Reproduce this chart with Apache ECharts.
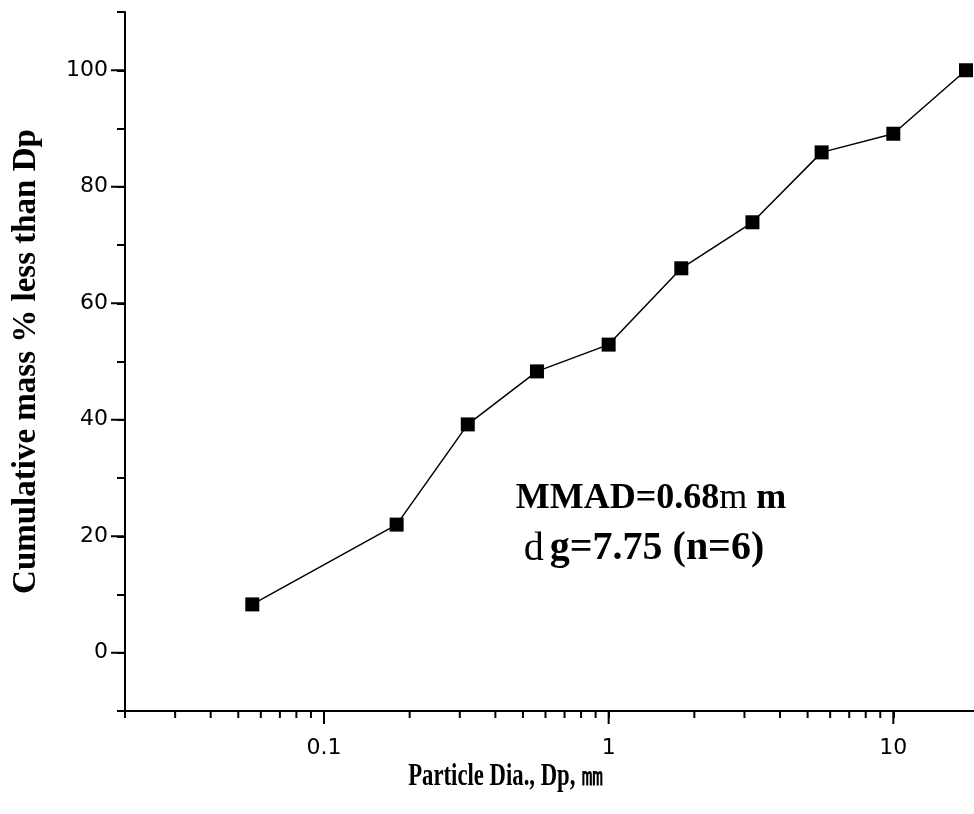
<!DOCTYPE html>
<html>
<head>
<meta charset="utf-8">
<script src="https://cdn.jsdelivr.net/npm/echarts@6/dist/echarts.min.js"></script>
<style>
  html, body { margin: 0; padding: 0; background: #fff; }
  #chart { width: 974px; height: 814px; }
</style>
</head>
<body>
<div id="chart"></div>
<script>
// particle size distribution, cumulative
var diameters = [0.056, 0.18, 0.32, 0.56, 1.0, 1.8, 3.2, 5.6, 10, 18];
var cumulative = [8.3, 22.0, 39.2, 48.3, 52.9, 66.0, 73.9, 85.9, 89.1, 100];

var xMajorTicks = [0.1, 1, 10];
var xMinorTicks = [0.03, 0.04, 0.05, 0.06, 0.07, 0.08, 0.09,
                   0.2, 0.3, 0.4, 0.5, 0.6, 0.7, 0.8, 0.9,
                   2, 3, 4, 5, 6, 7, 8, 9];
var yMajorTicks = [0, 20, 40, 60, 80, 100];

var X_MIN = 0.02, X_MAX = 20, Y_MIN = -10, Y_MAX = 110;

var points = diameters.map(function (d, i) { return [d, cumulative[i]]; });

// tick data: [x, y, kind]  kind 0 = x minor, 1 = x major, 2 = y major
var tickData = [];
xMinorTicks.forEach(function (v) { tickData.push([v, Y_MIN, 0]); });
xMajorTicks.forEach(function (v) { tickData.push([v, Y_MIN, 1]); });
yMajorTicks.forEach(function (v) { tickData.push([X_MIN, v, 2]); });

function renderTick(params, api) {
	var kind = api.value(2);
	var p = api.coord([api.value(0), api.value(1)]);
	var shape;
	if (kind === 0) {
		shape = { x1: p[0], y1: p[1], x2: p[0], y2: p[1] + 7 };
	} else if (kind === 1) {
		shape = { x1: p[0], y1: p[1], x2: p[0], y2: p[1] + 13 };
	} else {
		shape = { x1: p[0] - 14, y1: p[1], x2: p[0], y2: p[1] };
	}
	return {
		type: 'line',
		shape: shape,
		style: { stroke: '#000', lineWidth: 2 }
	};
}

var chart = echarts.init(document.getElementById('chart'));

var option = {
	backgroundColor: '#fff',
	animation: false,
	grid: {
		left: 125,
		right: -5,
		top: 12,
		bottom: 103,
		containLabel: false,
		outerBoundsMode: 'none'
	},
	xAxis: {
		type: 'log',
		logBase: 10,
		min: X_MIN,
		max: X_MAX,
		axisLine: { show: true, onZero: false, lineStyle: { color: '#000', width: 2 } },
		axisTick: { show: true, length: 7, lineStyle: { color: '#000', width: 2 } },
		axisLabel: {
			show: true,
			margin: 26,
			fontFamily: 'DejaVu Sans',
			fontSize: 22,
			color: '#000',
			formatter: function (v) {
				for (var i = 0; i < xMajorTicks.length; i++) {
					if (Math.abs(v - xMajorTicks[i]) < 1e-9 * xMajorTicks[i] + 1e-12) return String(xMajorTicks[i]);
				}
				return '';
			}
		},
		splitLine: { show: false },
		minorTick: { show: false },
		minorSplitLine: { show: false }
	},
	yAxis: {
		type: 'value',
		min: Y_MIN,
		max: Y_MAX,
		interval: 10,
		name: 'Cumulative mass % less than Dp',
		nameLocation: 'middle',
		nameRotate: 90,
		nameGap: 82,
		nameTextStyle: {
			fontFamily: 'Liberation Serif',
			fontWeight: 'bold',
			fontSize: 33,
			color: '#000'
		},
		axisLine: { show: true, onZero: false, lineStyle: { color: '#000', width: 2 } },
		axisTick: { show: true, length: 8, lineStyle: { color: '#000', width: 2 } },
		axisLabel: {
			show: true,
			margin: 17,
			fontFamily: 'DejaVu Sans',
			fontSize: 22,
			color: '#000',
			formatter: function (v) {
				return yMajorTicks.indexOf(v) >= 0 ? String(v) : '';
			}
		},
		splitLine: { show: false }
	},
	tooltip: { show: false },
	graphic: [{
		// x axis title, narrow tall face like the original
		type: 'text',
		x: 506,
		y: 777,
		scaleX: 0.71,
		style: {
			text: 'Particle Dia., Dp, ㎜',
			align: 'center',
			verticalAlign: 'middle',
			fontFamily: 'Liberation Serif',
			fontWeight: 'bold',
			fontSize: 32,
			fill: '#000'
		}
	}, {
		type: 'text',
		x: 651,
		y: 499,
		style: {
			text: '{b|MMAD=0.68}{t|m}{b| m}',
			align: 'center',
			verticalAlign: 'middle',
			rich: {
				b: { fontFamily: 'Liberation Serif', fontWeight: 'bold', fontSize: 36, fill: '#000' },
				t: { fontFamily: 'Liberation Serif', fontWeight: 'normal', fontSize: 36, fill: '#000' }
			}
		}
	}, {
		type: 'text',
		x: 644,
		y: 549,
		style: {
			text: '{t|d}{b|g=7.75 (n=6)}',
			align: 'center',
			verticalAlign: 'middle',
			rich: {
				b: { fontFamily: 'Liberation Serif', fontWeight: 'bold', fontSize: 40, fill: '#000' },
				t: { fontFamily: 'Liberation Serif', fontWeight: 'normal', fontSize: 40, fill: '#000', padding: [0, 6, 0, 0] }
			}
		}
	}],
	series: [{
		name: 'ticks',
		type: 'custom',
		silent: true,
		clip: false,
		renderItem: renderTick,
		data: tickData,
		z: 1
	}, {
		name: 'cumulative',
		type: 'line',
		data: points,
		symbol: 'rect',
		symbolSize: 14,
		itemStyle: { color: '#000' },
		lineStyle: { color: '#000', width: 1.5 },
		label: { show: false },
		z: 3
	}]
};

chart.setOption(option);
</script>
</body>
</html>
